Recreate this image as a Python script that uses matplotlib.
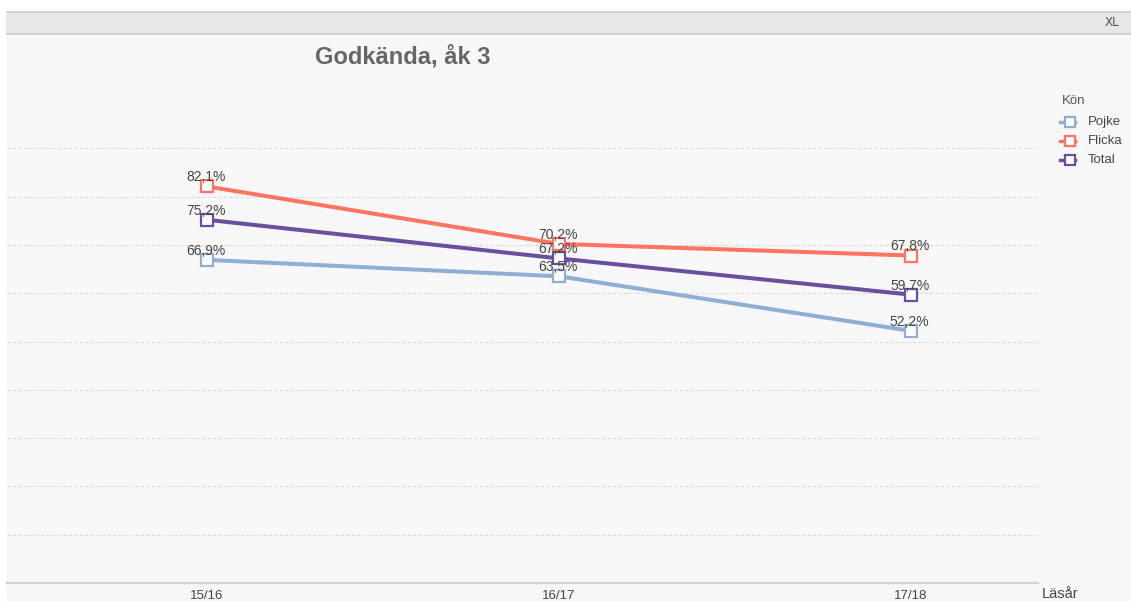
import matplotlib.pyplot as plt
from matplotlib.patches import Rectangle
from matplotlib.lines import Line2D

# data
years = ['15/16', '16/17', '17/18']
pojke = [66.9, 63.5, 52.2]
flicka = [82.1, 70.2, 67.8]
total = [75.2, 67.2, 59.7]
series_names = ['Pojke', 'Flicka', 'Total']
colors = ['#8eaed3', '#ff7461', '#6a4f9c']

plt.rcParams['font.family'] = ['Liberation Sans', 'DejaVu Sans']

W, H = 1131, 601
fig = plt.figure(figsize=(W / 100, H / 100), dpi=100)
fig.patch.set_facecolor('white')

# page background and header strip (pixel coords)
def px_rect(x0, y0, x1, y1, color):
    fig.patches.append(Rectangle((x0 / W, 1 - y1 / H), (x1 - x0) / W, (y1 - y0) / H,
                                 transform=fig.transFigure, facecolor=color,
                                 edgecolor='none', zorder=-5))

px_rect(6, 35, W, H, '#f7f7f7')
px_rect(6, 11, W, 35, '#e6e6e6')
px_rect(6, 11, W, 13, '#d2d2d2')
px_rect(6, 33, W, 35, '#d2d2d2')
fig.text(1112 / W, 1 - 23 / H, 'XL', fontsize=9.5, color='#555555',
         ha='center', va='center', family='DejaVu Sans', stretch='condensed')

# plot area: x from 7 to 1038 px, y from 100 (100%) to 583 (0%)
ax = fig.add_axes([7 / W, 18 / H, (1038 - 7) / W, 483 / H])
ax.set_zorder(2)
ax.set_facecolor('none')
ax.set_ylim(0, 100)
x0 = -200 / 352
ax.set_xlim(x0, x0 + 1031 / 352)
for s in ['top', 'right', 'left']:
    ax.spines[s].set_visible(False)
ax.spines['bottom'].set_color('#d0d0d0')
ax.spines['bottom'].set_linewidth(1.6)

ax.set_yticks(range(10, 100, 10))
ax.yaxis.grid(True, color='#d9d9d9', linestyle=(0, (3, 2)), linewidth=0.8)
ax.set_axisbelow(True)
ax.tick_params(axis='y', left=False, labelleft=False)
ax.set_xticks(range(len(years)))
ax.set_xticklabels(years, fontsize=9.5, color='#444444')
ax.tick_params(axis='x', length=0, pad=5)

xs = list(range(len(years)))
for name, vals, c in zip(series_names, [pojke, flicka, total], colors):
    ax.plot(xs, vals, color=c, linewidth=2.9, marker='s', markersize=8.5,
            markerfacecolor='white', markeredgecolor=c, markeredgewidth=1.6,
            solid_capstyle='butt', zorder=3)

for vals in [pojke, flicka, total]:
    for x, v in zip(xs, vals):
        ax.annotate(f'{v:.1f}%'.replace('.', ','), (x, v), xytext=(-1, 1.5),
                    textcoords='offset points', ha='center', va='bottom',
                    fontsize=10, color='#444444', zorder=5)

fig.text(403 / W, 1 - 57 / H, 'Godkända, åk 3', fontsize=17, fontweight='bold',
         color='#666666', ha='center', va='center')

fig.text(1042 / W, 1 - 594 / H, 'Läsår', fontsize=10.5, color='#444444',
         ha='left', va='center')

# legend: short line with the square sitting at its right end
fig.text(1062 / W, 1 - 101 / H, 'Kön', fontsize=9.5, color='#555555',
         ha='left', va='center')
for i, (name, c) in enumerate(zip(series_names, colors)):
    yy = 1 - (122 + 19 * i) / H
    fig.lines.append(Line2D([1060 / W, 1075 / W], [yy, yy], transform=fig.transFigure,
                            color=c, linewidth=2.5))
    fig.lines.append(Line2D([1070 / W], [yy], transform=fig.transFigure,
                            color=c, marker='s', markersize=7.5,
                            markerfacecolor='white', markeredgewidth=1.6,
                            linestyle='none'))
    fig.text(1088 / W, yy, name, fontsize=9.5, color='#444444',
             ha='left', va='center')

fig.savefig('out.png', dpi=100, facecolor=fig.get_facecolor())
